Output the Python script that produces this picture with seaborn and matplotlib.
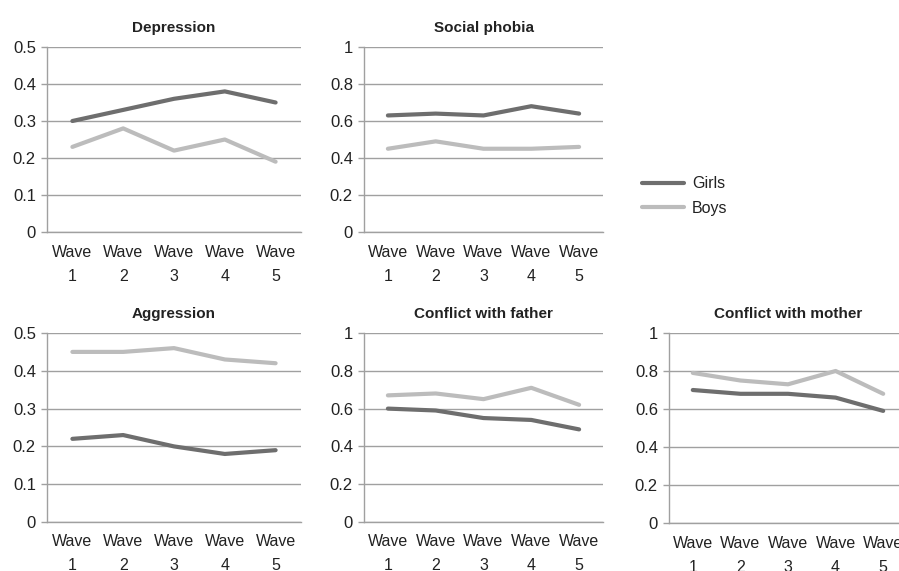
import pandas as pd
import numpy as np
import matplotlib.pyplot as plt
import matplotlib.ticker as mticker
import seaborn as sns

sns.set_style("white")
plt.rcParams["font.family"] = ["Liberation Sans", "DejaVu Sans"]

# Data
waves = ["Wave\n1", "Wave\n2", "Wave\n3", "Wave\n4", "Wave\n5"]
groups = ["Girls", "Boys"]

depression_girls = [0.30, 0.33, 0.36, 0.38, 0.35]
depression_boys = [0.23, 0.28, 0.22, 0.25, 0.19]
social_girls = [0.63, 0.64, 0.63, 0.68, 0.64]
social_boys = [0.45, 0.49, 0.45, 0.45, 0.46]
aggression_girls = [0.22, 0.23, 0.20, 0.18, 0.19]
aggression_boys = [0.45, 0.45, 0.46, 0.43, 0.42]
father_girls = [0.60, 0.59, 0.55, 0.54, 0.49]
father_boys = [0.67, 0.68, 0.65, 0.71, 0.62]
mother_girls = [0.70, 0.68, 0.68, 0.66, 0.59]
mother_boys = [0.79, 0.75, 0.73, 0.80, 0.68]

COLORS = {"Girls": "#6e6e6e", "Boys": "#bcbcbc"}
GRID = "#a0a0a0"
TEXT = "#222222"

W, H = 899, 571
fig = plt.figure(figsize=(W / 100, H / 100), dpi=100)


def px_axes(left, right, top, bottom):
    return fig.add_axes([left / W, 1 - bottom / H, (right - left) / W, (bottom - top) / H])


def draw_panel(ax, title, girls, boys, ymax, ystep):
    df = pd.DataFrame({
        "wave": list(range(len(waves))) * 2,
        "value": girls + boys,
        "group": ["Girls"] * len(girls) + ["Boys"] * len(boys),
    })
    sns.lineplot(data=df, x="wave", y="value", hue="group", hue_order=groups,
                 palette=COLORS, linewidth=3, ax=ax, legend=False)
    ax.set_xlim(-0.5, len(waves) - 0.5)
    ax.set_ylim(0, ymax)
    ax.set_yticks(np.round(np.arange(0, ymax + ystep / 2, ystep), 2))
    ax.yaxis.set_major_formatter(mticker.FuncFormatter(lambda v, _: f"{v:g}"))
    ax.set_xticks(range(len(waves)))
    ax.set_xticklabels(waves, linespacing=1.75)
    ax.set_xticks(np.arange(-0.5, len(waves)), minor=True)
    ax.tick_params(axis="x", which="major", length=0, pad=9, labelsize=11.5, colors=TEXT)
    ax.tick_params(axis="x", which="minor", length=4, width=1, color=GRID, direction="out")
    ax.tick_params(axis="y", length=4, width=1, color=GRID, pad=4, labelsize=12,
                   left=True, labelcolor=TEXT)
    ax.grid(axis="y", color=GRID, linewidth=1)
    ax.set_axisbelow(True)
    for s in ["top", "right"]:
        ax.spines[s].set_visible(False)
    for s in ["left", "bottom"]:
        ax.spines[s].set_color(GRID)
        ax.spines[s].set_linewidth(1)
    ax.set_xlabel("")
    ax.set_ylabel("")
    ax.set_title(title, fontsize=11, fontweight="bold", pad=11, color=TEXT)


ax1 = px_axes(47, 301, 47, 232)
ax2 = px_axes(364, 603, 47, 232)
ax3 = px_axes(47, 301, 333, 522)
ax4 = px_axes(364, 603, 333, 522)
ax5 = px_axes(669, 907, 333, 523)

draw_panel(ax1, "Depression", depression_girls, depression_boys, 0.5, 0.1)
draw_panel(ax2, "Social phobia", social_girls, social_boys, 1.0, 0.2)
draw_panel(ax3, "Aggression", aggression_girls, aggression_boys, 0.5, 0.1)
draw_panel(ax4, "Conflict with father", father_girls, father_boys, 1.0, 0.2)
draw_panel(ax5, "Conflict with mother", mother_girls, mother_boys, 1.0, 0.2)

handles = [plt.Line2D([], [], color=COLORS[g], linewidth=3) for g in groups]
fig.legend(handles, groups, loc="center left", bbox_to_anchor=(628 / W, 1 - 196 / H),
           frameon=False, fontsize=11.5, handlelength=2.6, handletextpad=0.5,
           labelspacing=0.6, labelcolor=TEXT)

fig.savefig("out.png", dpi=100)
